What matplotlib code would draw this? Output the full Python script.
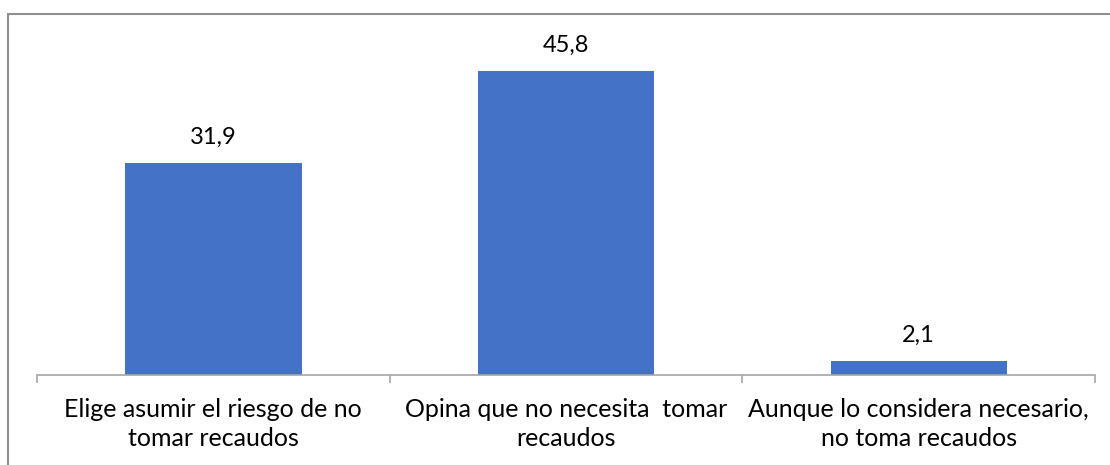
import matplotlib
matplotlib.use("Agg")
import matplotlib.pyplot as plt
from matplotlib.patches import Rectangle

categories = ["Elige asumir el riesgo de no\ntomar recaudos",
              "Opina que no necesita  tomar\nrecaudos",
              "Aunque lo considera necesario,\nno toma recaudos"]
values = [31.9, 45.8, 2.1]
value_labels = ["31,9", "45,8", "2,1"]

plt.rcParams['font.family'] = ['Lato', 'DejaVu Sans']

W, H = 1110, 465
fig = plt.figure(figsize=(W/100, H/100), dpi=100)
fig.patch.set_facecolor('white')

# outer border
fig.patches.append(Rectangle((8/W, -0.1), 1.2, (H-14)/H + 0.1, transform=fig.transFigure,
                             fill=False, edgecolor='#8f8f8f', linewidth=1.5))

ax = fig.add_axes([37/W, (H-375)/H, (1095-37)/W, (375-15)/H])
x = list(range(len(categories)))
ax.bar(x, values, width=0.5, color='#4472C4', zorder=2)
ax.set_xlim(-0.5, len(categories)-0.5)
ax.set_ylim(0, 360/6.646)

for xi, v, lab in zip(x, values, value_labels):
    ax.annotate(lab, (xi, v), xytext=(0, 15), textcoords='offset pixels',
                ha='center', va='bottom', fontsize=17, color='#000000')

for s in ['top', 'right', 'left']:
    ax.spines[s].set_visible(False)
ax.spines['bottom'].set_color('#a6a6a6')
ax.spines['bottom'].set_linewidth(1.2)
ax.set_yticks([])
ax.set_xticks([-0.5, 0.5, 1.5, 2.5])
ax.set_xticklabels([])
ax.tick_params(axis='x', direction='out', length=5.8, width=1.2, color='#a6a6a6')
ax.set_xticks(x, minor=True)
ax.set_xticklabels(categories, minor=True, fontsize=18, linespacing=1.3)
ax.tick_params(axis='x', which='minor', length=0, pad=16.5)
ax.patch.set_alpha(0)

fig.savefig('out.png', dpi=100, facecolor='white')
